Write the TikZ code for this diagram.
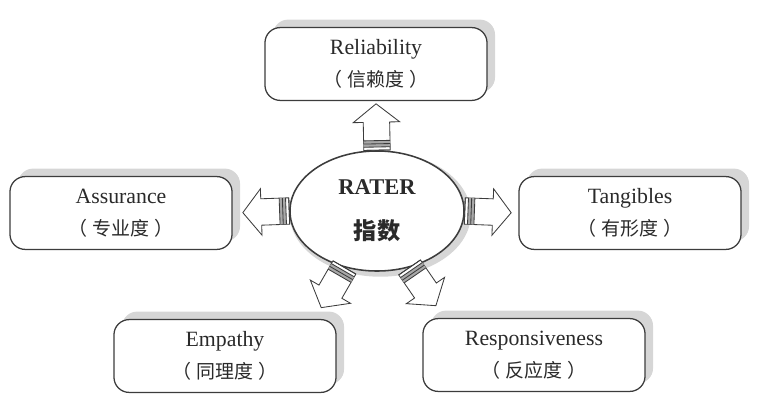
\documentclass[tikz,border=0pt]{standalone}
\usepackage{fontspec}
\setmainfont{Liberation Serif}
\newfontfamily\cjk{Noto Sans CJK SC}
\usetikzlibrary{calc,shapes.geometric,shadows}
\definecolor{edge}{HTML}{3C3C3C}
\definecolor{shade}{HTML}{D6D6D6}
\definecolor{stripe}{HTML}{A8A8A8}
\definecolor{ink}{HTML}{2A2A2A}

% hollow block arrow with a striped tail, from #1 pointing to #2
\newcommand\blockarr[2]{%
  \path let \p1=($(#2)-(#1)$), \n1={atan2(\y1,\x1)} in
    \pgfextra{\xdef\arrang{\n1}};
  \begin{scope}[shift={(#1)},rotate=\arrang,draw=edge,line width=0.6pt]
    \draw[fill=white] (0,-0.33cm) -- (0.7cm,-0.33cm) -- (0.7cm,-0.58cm)
      -- (1.16cm,0) -- (0.7cm,0.58cm) -- (0.7cm,0.33cm) -- (0,0.33cm) -- cycle;
    \fill[stripe] (0.08cm,-0.33cm) rectangle (0.24cm,0.33cm);
    \foreach \s in {0,0.08,0.16,0.24}
      \draw (\s cm,-0.33cm) -- (\s cm,0.33cm);
  \end{scope}}

% Chinese gloss in full-width brackets
\newcommand\gloss[1]{{\cjk\fontsize{13.5}{23}\selectfont
  （\hspace{0.25em}#1\hspace{0.25em}）}}

\begin{document}
\begin{tikzpicture}[
  x=0.025cm,y=-0.025cm,
  facet/.style={draw=edge,line width=0.9pt,fill=white,rounded corners=0.38cm,
                minimum width=5.55cm,minimum height=1.82cm,inner sep=2pt,
                align=center,text=ink,font=\fontsize{15.5}{23}\selectfont,
                drop shadow={shadow xshift=0.2cm,shadow yshift=0.2cm,
                             fill=shade,opacity=1}},
  hub/.style={ellipse,draw=edge,line width=1.1pt,fill=white,
              minimum width=4.35cm,minimum height=3cm,inner sep=0pt,
              align=center,text=ink,
              drop shadow={shadow xshift=0.08cm,shadow yshift=-0.08cm,
                           shadow scale=1.04,fill=shade,opacity=1}},
]
\useasboundingbox (0,0) rectangle (762,413);

% centre
\node[hub] (rater) at (377,211)
  {\fontsize{16}{18}\selectfont\bfseries RATER\\[17pt]
   {\cjk\fontsize{16.5}{18}\selectfont\bfseries 指数}};

% five dimensions
\node[facet] (rel) at (376,64)    {Reliability\\\gloss{信赖度}};
\node[facet] (asr) at (121,213)   {Assurance\\\gloss{专业度}};
\node[facet] (tan) at (630,213)   {Tangibles\\\gloss{有形度}};
\node[facet] (emp) at (225,356)   {Empathy\\\gloss{同理度}};
\node[facet] (rsp) at (534,355)   {Responsiveness\\\gloss{反应度}};

\coordinate (empTip) at ($(emp.north east)+(-22,0)$);
\coordinate (rspTip) at ($(rsp.north west)+(22,0)$);

% arrows out of the hub
\blockarr{rater.90}{rel.south}
\blockarr{rater.180}{asr.east}
\blockarr{rater.0}{tan.west}
\blockarr{rater.240}{empTip}
\blockarr{rater.300}{rspTip}

\end{tikzpicture}
\end{document}
